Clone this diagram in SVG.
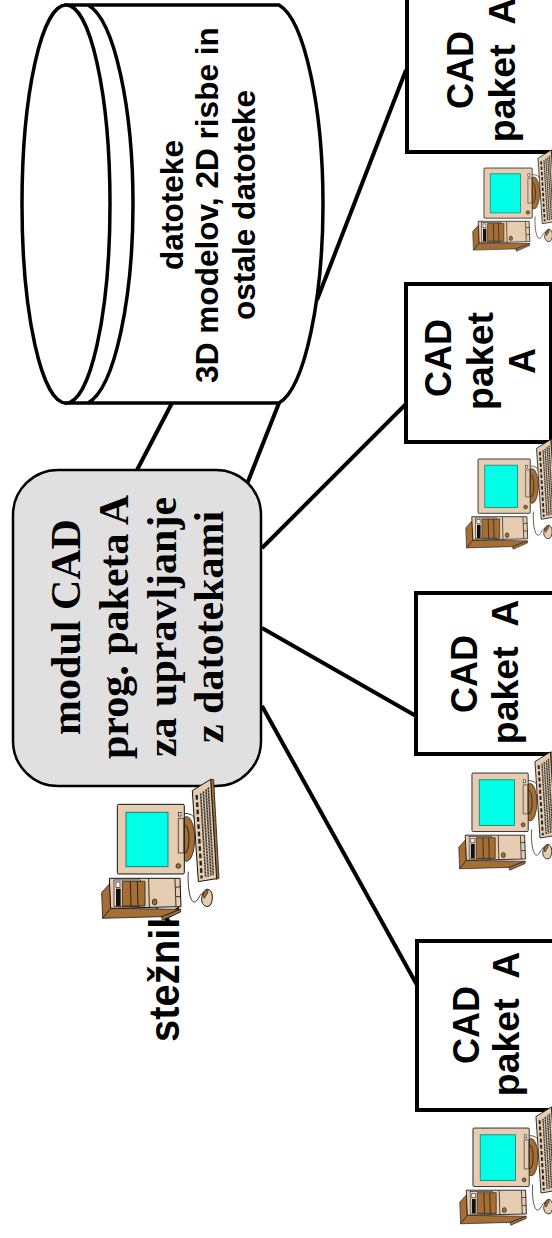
<svg xmlns="http://www.w3.org/2000/svg" width="552" height="1238" viewBox="0 0 552 1238">
<style>
text{font-family:"Liberation Sans",Arial,sans-serif;font-weight:bold;fill:#000;text-anchor:middle}
.serif text{font-family:"Liberation Serif","Times New Roman",serif;font-size:42px}
.cyl{font-size:31.6px}
.cad{font-size:36px}
.pk{font-size:37.5px}
.box{fill:#fff;stroke:#000;stroke-width:4}
.con{fill:none;stroke:#000;stroke-width:4}
.tan{fill:#e6ccb0;stroke:#111;stroke-width:3;stroke-linejoin:round}
.brn{fill:#a56e35;stroke:#222;stroke-width:2.5;stroke-linejoin:round}
.ln{fill:none;stroke:#111;stroke-width:2.5}
.key{fill:none;stroke:#333;stroke-width:5;stroke-dasharray:7 2}
</style>
<defs>
<g id="pc">
<path class="ln" d="M283,130q28,0 32,20M295,305C292,350 300,395 312,396C325,396 325,375 340,368"/>
<ellipse class="brn" cx="290" cy="207" rx="24" ry="67"/>
<ellipse class="ln" cx="285" cy="207" rx="12" ry="42"/>
<rect class="tan" x="82" y="103" width="201" height="209" rx="4"/>
<rect x="108" y="127" width="126" height="163" fill="#00ffe6" stroke="#1a7f70" stroke-width="3"/>
<rect x="265" y="127" width="8" height="11" fill="#fff" stroke="#111" stroke-width="2"/>
<rect class="tan" x="265" y="145" width="16" height="104" style="stroke-width:2"/>
<circle class="brn" cx="265" cy="288" r="7"/>
<path class="brn" d="M362,28L371,28L387,325L379,328Z"/>
<path class="tan" d="M307,62L362,28L380,326L325,335Z"/>
<path class="key" style="stroke-width:7;stroke-dasharray:14 8;stroke:#222" d="M320,75L335,325"/>
<path class="key" d="M332,70L347,322M340,64L355,320M348,58L363,318M355,52L370,316"/>
<path class="brn" d="M35,368L60,340L62,415L38,445Z"/>
<path class="brn" d="M38,445L62,415L272,418L215,440Z"/>
<path class="brn" d="M215,440L272,418L272,426L217,450Z"/>
<path class="tan" d="M58,325L270,325L273,410L62,415Z"/>
<rect x="72" y="330" width="80" height="80" fill="#f0dcc4" stroke="#111" stroke-width="2"/>
<rect class="brn" x="97" y="334" width="68" height="74"/>
<path class="ln" d="M121,334L123,408M142,334L144,408M176,327L178,412M255,327L258,410M257,352L272,350M258,380L273,380"/>
<rect x="78" y="336" width="12" height="16" fill="#fff" stroke="#111" stroke-width="2"/>
<rect x="78" y="356" width="14" height="52" fill="#111"/>
<ellipse class="brn" cx="194" cy="396" rx="7" ry="9"/>
<path class="tan" d="M352,358C370,358 372,395 358,408C345,414 333,400 335,385C337,372 342,360 352,358Z"/>
<path class="brn" d="M352,358C340,362 338,375 343,385C346,375 358,370 352,358Z"/>
</g>
</defs>
<g id="connectors">
<path class="con" d="M137,470L172,403M247,484L279,403M262,548L406,404M262,628L416,716M262,706L417,985M317,300L406,70"/>
</g>
<g id="database">
<path d="M66,5H279C305,20 323,110 323,204C323,298 305,388 279,403H66Z" fill="#fff" stroke="#000" stroke-width="3.5"/>
<path d="M88,5C115,20 133,110 133,204C133,298 115,388 88,403" fill="none" stroke="#000" stroke-width="3.5"/>
<ellipse cx="66" cy="204" rx="44" ry="199" fill="#fff" stroke="#000" stroke-width="3.5"/>
<g class="cyl">
<text transform="translate(183,205) rotate(-90)">datoteke</text>
<text transform="translate(218,205) rotate(-90)">3D modelov, 2D risbe in</text>
<text transform="translate(255,205) rotate(-90)">ostale datoteke</text>
</g>
</g>
<g id="server-module">
<rect x="13" y="470" width="248" height="316" rx="45" fill="#e0e0e0" stroke="#000" stroke-width="2.5"/>
<g class="serif">
<text transform="translate(80,627) rotate(-90)">modul CAD</text>
<text transform="translate(128,627) rotate(-90)">prog. paketa A</text>
<text transform="translate(176,627) rotate(-90)">za upravljanje</text>
<text transform="translate(223,627) rotate(-90)">z datotekami</text>
</g>
</g>
<g id="server-pc">
<text transform="translate(179,1042) rotate(-90) scale(1,1.07)" style="font-size:40px;text-anchor:start">stežnik</text>
<use href="#pc" transform="translate(90,770) scale(.3333)"/>
</g>
<g id="client-1">
<rect class="box" x="407" y="-20" width="160" height="172"/>
<g class="cad">
<text transform="translate(473,70) rotate(-90)">CAD</text>
<text class="pk" transform="translate(515,70) rotate(-90)" xml:space="preserve">paket  A</text>
</g>
<use href="#pc" transform="translate(464.3,143.3) scale(.24)"/>
</g>
<g id="client-2">
<rect class="box" x="406" y="284" width="145" height="158"/>
<g class="cad">
<text transform="translate(451,358) rotate(-90)">CAD</text>
<text class="pk" transform="translate(493,361) rotate(-90)">paket</text>
<text transform="translate(535,361) rotate(-90)">A</text>
</g>
<use href="#pc" transform="translate(456.7,432.2) scale(.26)"/>
</g>
<g id="client-3">
<rect class="box" x="416" y="593" width="160" height="161"/>
<g class="cad">
<text transform="translate(477,674) rotate(-90)">CAD</text>
<text class="pk" transform="translate(518,672) rotate(-90)" xml:space="preserve">paket  A</text>
</g>
<use href="#pc" transform="translate(449,744.2) scale(.28)"/>
</g>
<g id="client-4">
<rect class="box" x="417" y="941" width="160" height="169"/>
<g class="cad">
<text transform="translate(479,1025) rotate(-90)">CAD</text>
<text class="pk" transform="translate(519,1024) rotate(-90)" xml:space="preserve">paket  A</text>
</g>
<use href="#pc" transform="translate(450,1099.2) scale(.28)"/>
</g>
</svg>
